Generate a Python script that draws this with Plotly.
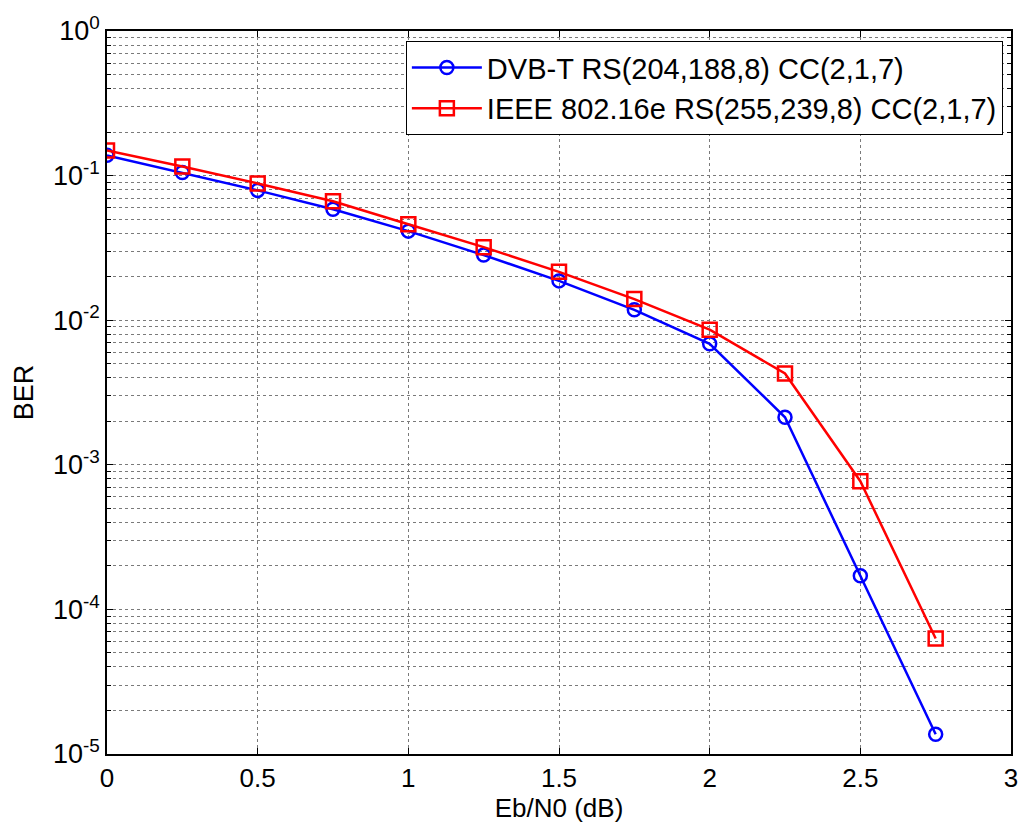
import plotly.graph_objects as go

ebn0 = [0, 0.25, 0.5, 0.75, 1.0, 1.25, 1.5, 1.75, 2.0, 2.25, 2.5, 2.75]
ber_dvbt = [0.138, 0.105, 0.079, 0.0585, 0.0413, 0.0282, 0.0187, 0.0118,
            0.00687, 0.00213, 1.71e-4, 1.37e-5]
ber_ieee = [0.149, 0.1157, 0.0883, 0.0664, 0.0461, 0.032, 0.0216, 0.0140,
            0.0086, 0.00428, 7.7e-4, 6.3e-5]

name_dvbt = "DVB-T RS(204,188,8) CC(2,1,7)"
name_ieee = "IEEE 802.16e RS(255,239,8) CC(2,1,7)"

x_ticks = [0, 0.5, 1, 1.5, 2, 2.5, 3]
y_exps = [-5, -4, -3, -2, -1, 0]
y_ticks = [10.0 ** e for e in y_exps]
y_ticktext = ["10<sup>%d</sup>" % e for e in y_exps]
y_minor = [m * 10.0 ** e for e in y_exps[:-1] for m in range(2, 10)]

FONT = "Liberation Sans, Arial, sans-serif"
GRID = "#7a7a7a"

fig = go.Figure()
fig.add_trace(go.Scatter(
    x=ebn0, y=ber_dvbt, name=name_dvbt, mode="lines+markers",
    line=dict(color="#0000ff", width=2.5),
    marker=dict(symbol="circle-open", size=13, color="#0000ff",
                line=dict(width=2.5, color="#0000ff")),
))
fig.add_trace(go.Scatter(
    x=ebn0, y=ber_ieee, name=name_ieee, mode="lines+markers",
    line=dict(color="#ff0000", width=2.5),
    marker=dict(symbol="square-open", size=14, color="#ff0000",
                line=dict(width=2.5, color="#ff0000")),
))

fig.update_layout(
    width=1030, height=830,
    margin=dict(l=107, r=15, t=29, b=76),
    paper_bgcolor="white", plot_bgcolor="white",
    font=dict(family=FONT, size=25, color="black"),
    showlegend=True,
    legend=dict(
        x=0.991, y=0.986, xanchor="right", yanchor="top",
        bgcolor="white", bordercolor="black", borderwidth=1,
        itemwidth=70,
        font=dict(family=FONT, size=29, color="black"),
    ),
)

fig.update_xaxes(
    range=[0, 3], tickvals=x_ticks, ticktext=[("%g" % v) for v in x_ticks],
    ticks="inside", ticklen=6, tickcolor="black", tickwidth=1,
    showline=True, linecolor="black", linewidth=1.5, mirror="ticks",
    showgrid=True, gridcolor=GRID, griddash="dot", gridwidth=1,
    zeroline=False,
    tickfont=dict(family=FONT, size=26),
    title=dict(text="Eb/N0 (dB)", font=dict(family=FONT, size=26), standoff=6),
)
fig.update_yaxes(
    type="log", range=[-5, 0],
    tickvals=y_ticks, ticktext=y_ticktext,
    ticks="inside", ticklen=6, tickcolor="black", tickwidth=1,
    showline=True, linecolor="black", linewidth=1.5, mirror="ticks",
    showgrid=True, gridcolor=GRID, griddash="dot", gridwidth=1,
    zeroline=False,
    minor=dict(tickvals=y_minor, ticks="inside", ticklen=4,
               tickcolor="black", showgrid=True, gridcolor=GRID,
               griddash="dot", gridwidth=1),
    tickfont=dict(family=FONT, size=27),
    title=dict(text="BER", font=dict(family=FONT, size=27), standoff=12),
)

fig.write_html("out.html")
